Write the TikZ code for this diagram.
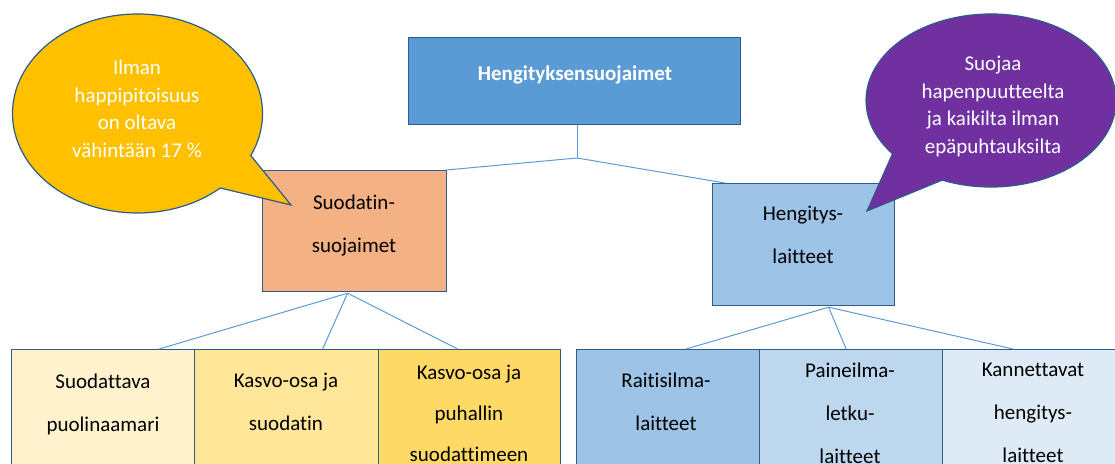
\documentclass[tikz,border=0pt]{standalone}
\usepackage{fontspec}
\setmainfont{Carlito}[Ligatures={NoCommon}]
\usetikzlibrary{calc}
\definecolor{bord}{HTML}{2E5C8A}
\definecolor{conncol}{HTML}{5B9BD5}
\definecolor{topfill}{HTML}{5B9BD5}
\definecolor{orangefill}{HTML}{F4B183}
\definecolor{bluefill}{HTML}{9DC3E6}
\definecolor{yA}{HTML}{FFF2CC}
\definecolor{yB}{HTML}{FFE699}
\definecolor{yC}{HTML}{FFD966}
\definecolor{bA}{HTML}{9DC3E6}
\definecolor{bB}{HTML}{BDD7EE}
\definecolor{bC}{HTML}{DEEBF7}
\definecolor{bubY}{HTML}{FFC000}
\definecolor{bubP}{HTML}{7030A0}
\begin{document}
\begin{tikzpicture}[x=1pt,y=1pt,
  box/.style={draw=bord, line width=1.2pt, rectangle, anchor=north west, inner sep=0pt},
  txt/.style={anchor=north, align=center, inner sep=0pt, font=\fontsize{21}{43}\selectfont, text=black},
  btxt/.style={anchor=north, align=center, inner sep=0pt, font=\fontsize{21}{27.5}\selectfont, text=white},
  conn/.style={draw=conncol, line width=1pt},
  bubble/.style={draw=bord, line width=1.2pt}]
\useasboundingbox (0,0) rectangle (1115,-463);
\clip (0,0) rectangle (1115,-463);

\coordinate (j) at (577,-158);

\node[box, fill=topfill, minimum width=332, minimum height=87] (top) at (408,-37) {};
\node[box, fill=orangefill, minimum width=184, minimum height=121] (sb) at (262,-170) {};
\node[box, fill=bluefill, minimum width=182, minimum height=122] (hb) at (712,-183) {};

\node[box, fill=yA, minimum width=183, minimum height=150] (l1) at (11,-349) {};
\node[box, fill=yB, minimum width=184, minimum height=150] (l2) at (194,-349) {};
\node[box, fill=yC, minimum width=182, minimum height=150] (l3) at (378,-349) {};
\node[box, fill=bA, minimum width=183, minimum height=150] (r1) at (576,-349) {};
\node[box, fill=bB, minimum width=183, minimum height=150] (r2) at (759,-349) {};
\node[box, fill=bC, minimum width=183, minimum height=150] (r3) at (942,-349) {};

\coordinate (sj) at ($(sb.south)+(-7,-1)$);
\coordinate (hj) at ($(hb.south)+(25,-1)$);

\draw[conn] (top.south -| j) -- (j);
\draw[conn] (j) -- ($(sb.north east)+(-1,0)$);
\draw[conn] (j) -- ($(hb.north west)+(13,0)$);
\draw[conn] (sj) -- ($(l1.north)+(56,0)$);
\draw[conn] (sj) -- ($(l2.north)+(36,0)$);
\draw[conn] (sj) -- ($(l3.north)+(-12,0)$);
\draw[conn] (hj) -- ($(r1.north)+(18,0)$);
\draw[conn] (hj) -- ($(r2.north)+(-5,0)$);
\draw[conn] (hj) -- ($(r3.north)+(-21,0)$);

\node[anchor=base, inner sep=0pt, font=\fontsize{21}{25}\selectfont\bfseries, text=white] (toptxt) at (575,-80) {Hengityksensuojaimet};
\node[txt] (sbt) at (354,-195) {Suodatin-\\suojaimet};
\node[txt] (hbt) at (803,-206) {Hengitys-\\laitteet};
\node[txt] (l1t) at (103,-374) {Suodattava\\puolinaamari};
\node[txt] (l2t) at (286,-373) {Kasvo-osa ja\\suodatin};
\node[txt, font=\fontsize{21}{41}\selectfont] (l3t) at (469,-365) {Kasvo-osa ja\\puhallin\\suodattimeen};
\node[txt] (r1t) at (666,-373) {Raitisilma-\\laitteet};
\node[txt] (r2t) at (850,-363) {Paineilma-\\letku-\\laitteet};
\node[txt] (r3t) at (1033,-363) {Kannettavat\\hengitys-\\laitteet};

\coordinate (yc) at (137.5,-113.5);
\coordinate (ytip) at (291,-205);
\path[bubble, fill=bubY] ($(yc)+(-25:125 and 99.5)$) arc[start angle=-25, end angle=311.5, x radius=125, y radius=99.5] -- (ytip) -- cycle;
\node[btxt] (ytxt) at (137,-60) {Ilman\\happipitoisuus\\on oltava\\vähintään 17 \%};

\coordinate (pc) at (991,-100.5);
\coordinate (ptip) at (867,-211);
\path[bubble, fill=bubP] ($(pc)+(247:125 and 86.5)$) arc[start angle=247, end angle=578, x radius=125, y radius=86.5] -- (ptip) -- cycle;
\node[btxt] (ptxt) at (993,-56) {Suojaa\\hapenpuutteelta\\ja kaikilta ilman\\epäpuhtauksilta};
\end{tikzpicture}
\end{document}
